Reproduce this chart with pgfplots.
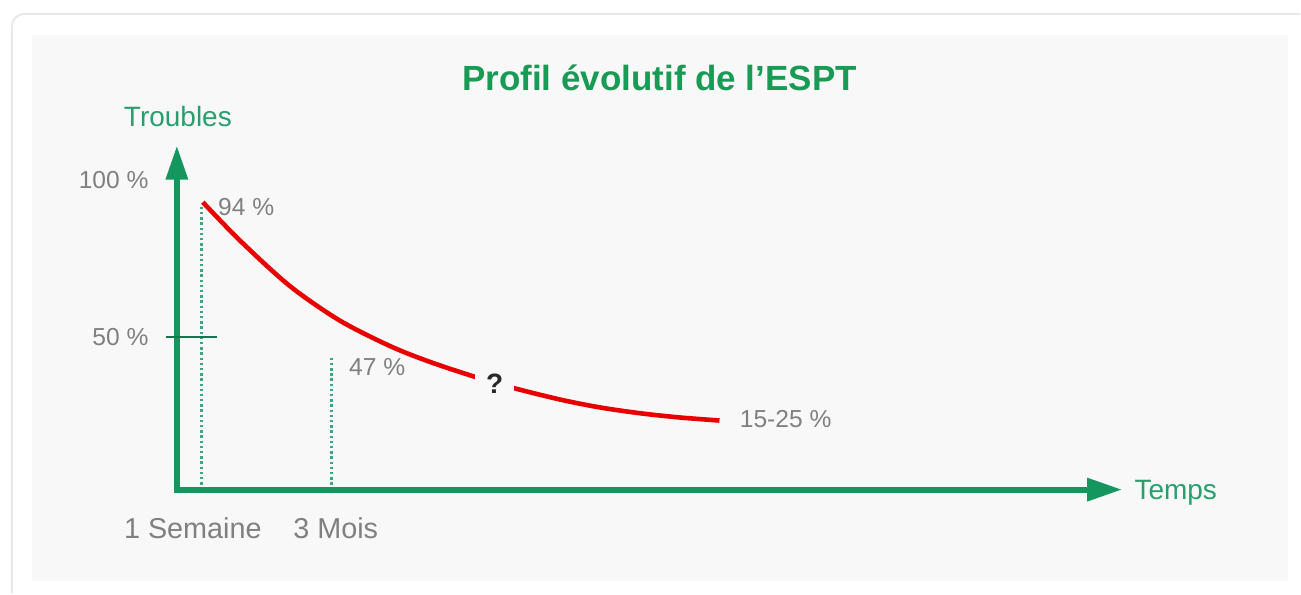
\documentclass[border=0pt]{standalone}
\usepackage{pgfplots}
\pgfplotsset{compat=1.18}
\usepackage{fontspec}
\setmainfont{Liberation Sans}
\definecolor{axgreen}{RGB}{22,150,95}
\definecolor{titlegreen}{RGB}{24,155,85}
\definecolor{labgreen}{RGB}{40,160,110}
\definecolor{dotgreen}{RGB}{60,165,130}
\definecolor{txtgray}{RGB}{128,128,128}
\definecolor{panel}{RGB}{248,248,248}
\definecolor{cardline}{RGB}{232,232,232}
\definecolor{curvered}{RGB}{232,0,0}
\begin{document}
\begin{tikzpicture}
\begin{axis}[
  width=650.5pt, height=297pt, scale only axis,
  xmin=0, xmax=1301, ymin=-33.987, ymax=160.131,
  axis lines=none, ticks=none, clip=false,
]
% background
\fill[white] (axis cs:0,-33.987) rectangle (axis cs:1301,160.131);
\draw[cardline, line width=1pt, rounded corners=6pt] (axis cs:12,-33.987) -- (axis cs:12,155.56) -- (axis cs:1301,155.56);
\fill[panel] (axis cs:32,148.69) rectangle (axis cs:1289,-29.74);
% title
\node[font=\fontsize{17.5}{20}\selectfont\bfseries, text=titlegreen] at (axis cs:660,134.64) {Profil évolutif de l’ESPT};
% dotted guides
\draw[dotgreen, line width=1.4pt, dash pattern=on 1.2pt off 1.4pt] (axis cs:202,92.48) -- (axis cs:202,0);
\draw[dotgreen, line width=1.4pt, dash pattern=on 1.2pt off 1.4pt] (axis cs:332,43.14) -- (axis cs:332,0);
% axes
\draw[axgreen, line width=2.9pt] (axis cs:177,-0.9) -- (axis cs:177,101.8);
\fill[axgreen] (axis cs:177,112.2) -- (axis cs:165.5,101.4) -- (axis cs:188.5,101.4) -- cycle;
\draw[axgreen, line width=2.9pt] (axis cs:174.5,0) -- (axis cs:1090,0);
\fill[axgreen] (axis cs:1122,0) -- (axis cs:1088,3.92) -- (axis cs:1088,-3.92) -- cycle;
\draw[axgreen!80!black, line width=1pt] (axis cs:166,50) -- (axis cs:217,50);
% curve
\addplot[curvered, line width=2.3pt, smooth] coordinates {
  (203,94) (240,81.5) (290,66.6) (340,55.3) (390,47.0) (430,41.8)
  (478,36.6) (513,33.3) (560,29.5) (600,26.9) (640,25.0) (680,23.6) (720,22.6)
};
\node[fill=panel, inner xsep=5.5pt, inner ysep=3pt, text={rgb,255:red,40;green,40;blue,40}, font=\fontsize{14}{16}\selectfont\bfseries] at (axis cs:495,34.6) {?};
% labels
\node[anchor=mid east, inner sep=0pt, text=txtgray, font=\fontsize{12.3}{14}\selectfont] at (axis cs:149,100.3) {100 \%};
\node[anchor=mid east, inner sep=0pt, text=txtgray, font=\fontsize{12.3}{14}\selectfont] at (axis cs:149,48.7) {50 \%};
\node[anchor=mid west, inner sep=0pt, text=txtgray, font=\fontsize{12.3}{14}\selectfont] at (axis cs:218,91.5) {94 \%};
\node[anchor=mid west, inner sep=0pt, text=txtgray, font=\fontsize{12.3}{14}\selectfont] at (axis cs:349,39.2) {47 \%};
\node[anchor=mid west, inner sep=0pt, text=txtgray, font=\fontsize{12.3}{14}\selectfont] at (axis cs:740,22.2) {15-25 \%};
\node[anchor=mid, inner sep=0pt, text=labgreen, font=\fontsize{14}{16}\selectfont] at (axis cs:178,120.6) {Troubles};
\node[anchor=mid west, inner sep=0pt, text=labgreen, font=\fontsize{14}{16}\selectfont] at (axis cs:1135,-1.63) {Temps};
\node[anchor=mid, inner sep=0pt, text=txtgray, font=\fontsize{14.4}{16}\selectfont] at (axis cs:193,-14.4) {1 Semaine};
\node[anchor=mid, inner sep=0pt, text=txtgray, font=\fontsize{14.4}{16}\selectfont] at (axis cs:336,-14.4) {3 Mois};
\end{axis}
\end{tikzpicture}
\end{document}
